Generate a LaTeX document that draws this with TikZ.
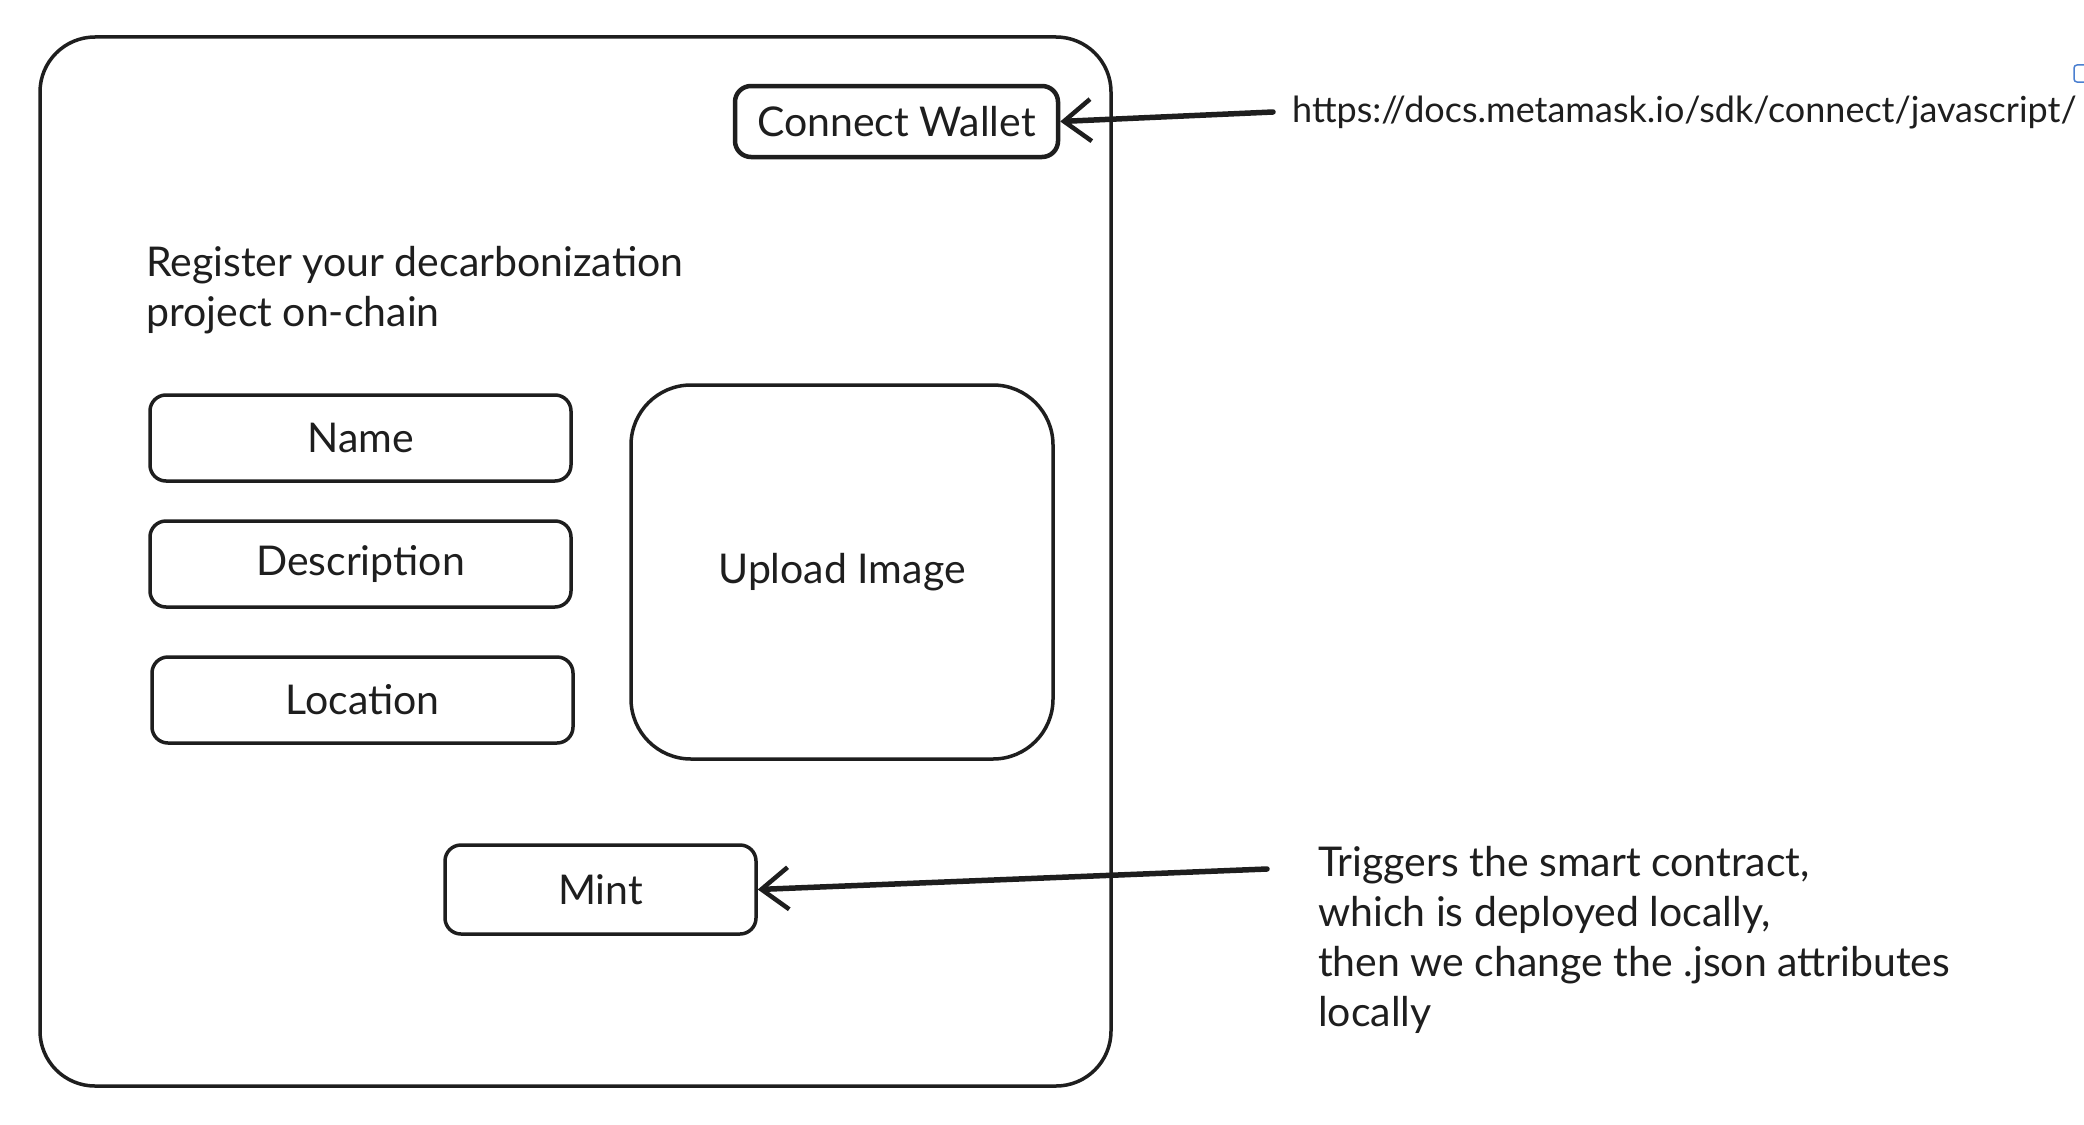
\documentclass[tikz,border=0pt]{standalone}
\usepackage{fontspec}
\setmainfont{Lato}
\usetikzlibrary{arrows.meta}
\definecolor{ink}{HTML}{1E1E1E}
\definecolor{linkblue}{HTML}{4A7FD0}
\begin{document}
\begin{tikzpicture}[x=1pt,y=-1pt,
  every node/.style={text=ink},
  frame/.style={draw=ink, line width=3.5pt, rounded corners=55pt, inner sep=0pt},
  box/.style={draw=ink, line width=3.5pt, rounded corners=16pt, inner sep=0pt, font=\fontsize{41}{50}\selectfont},
  txt/.style={inner sep=0pt, align=left, font=\fontsize{41}{50}\selectfont},
  urltxt/.style={inner sep=0pt, font=\fontsize{36}{44}\selectfont},
  arr/.style={draw=ink, line width=5.5pt, line cap=round, -{Straight Barb[length=27pt, width=42pt, line width=4.5pt]}}]
\useasboundingbox (0,0) rectangle (2084,1124);
\fill[white] (0,0) rectangle (2084,1124);
\node[frame, minimum width=1071pt, minimum height=1049pt] (frame) at (575.5,561.5) {};
\node[box, line width=4.5pt, minimum width=323pt, minimum height=71pt] (cw) at (896.5,121.5) {Connect Wallet};
\node[txt, anchor=west] (title) at (146,290) {Register your decarbonization\\project on-chain};
\node[box, minimum width=421pt, minimum height=86pt] (name) at (360.5,438) {Name};
\node[box, minimum width=421pt, minimum height=86pt] (desc) at (360.5,564) {Description};
\node[box, minimum width=421pt, minimum height=86pt] (loc) at (362.5,700) {Location};
\node[box, rounded corners=60pt, minimum width=422pt, minimum height=374pt] (upload) at (842,572) {Upload Image};
\node[box, minimum width=311pt, minimum height=89pt] (mint) at (600.5,889.5) {Mint};
\node[urltxt, anchor=west] (url) at (1292,113) {https://docs.metamask.io/sdk/connect/javascript/};
\node[txt, anchor=west] (trig) at (1318,940) {Triggers the smart contract,\\which is deployed locally,\\then we change the .json attributes\\locally};
\coordinate (ustart) at (1273,112);
\coordinate (tstart) at (1267,869);
\draw[arr] (ustart) -- (cw.east);
\draw[arr] (tstart) -- (mint.east);
\draw[linkblue, line width=1.5pt, rounded corners=3pt] (2090,65) -- (2074,65) -- (2074,82) -- (2090,82);
\end{tikzpicture}
\end{document}
